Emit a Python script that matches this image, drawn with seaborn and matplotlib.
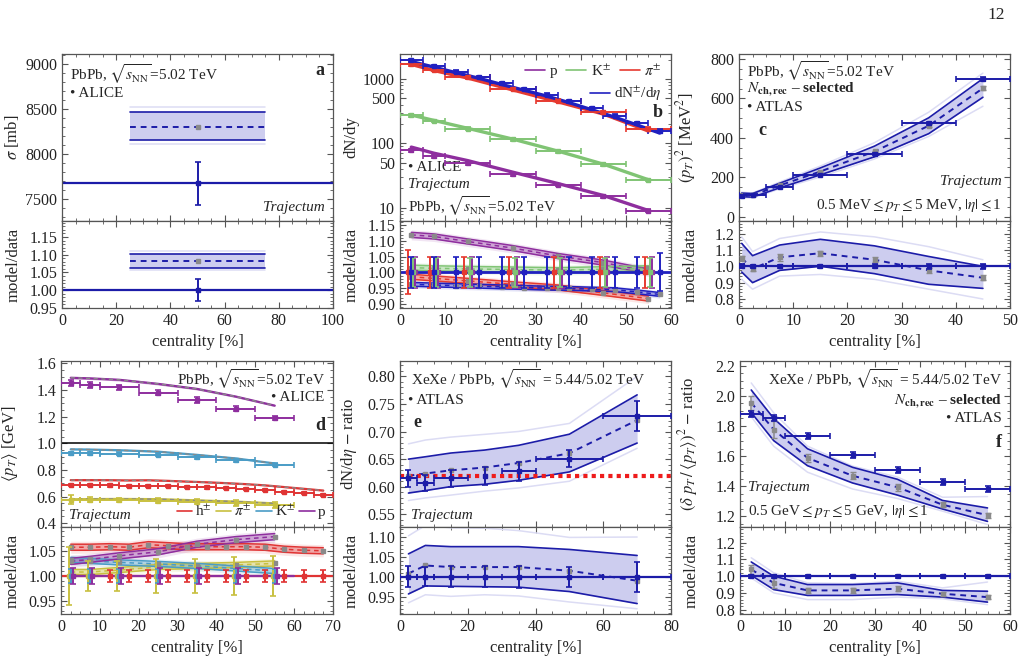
import numpy as np
import seaborn as sns
import matplotlib.pyplot as plt
from matplotlib.lines import Line2D
from matplotlib.ticker import MultipleLocator, FormatStrFormatter, FixedLocator, FixedFormatter, LogLocator, NullFormatter

sns.set_style("ticks")
plt.rcParams["font.family"] = ["Liberation Serif", "DejaVu Serif"]
plt.rcParams["mathtext.fontset"] = "stix"
plt.rcParams["font.size"] = 10.5

BLUE = "#1c1ca8"
FILL = "#c8c8ee"
FAINT = "#dcdcf4"
GRAY = "#8a8a8a"
C_P, C_K, C_PI, C_CH = "#8e2e9e", "#80c474", "#e63a30", "#2020c0"
D_H, D_PI, D_K, D_P = "#e03434", "#c8c040", "#4a9cc6", "#8e2e9e"

# ---------------- data ----------------
# a: total cross section
a_data_x, a_data, a_data_err = 50, 7670, 240
a_band_x = [25, 75]
a_model = [8150, 8300, 8460]          # lower, median, upper
a_model_out = [8110, 8520]

# b: yields
b_id_x = np.array([2.5, 7.5, 15, 25, 35, 45, 55])
b_id_xerr = [2.5, 2.5, 5, 5, 5, 5, 5]
b_pi = np.array([1706, 1377, 1060, 700, 462, 305, 169])
b_k = np.array([271, 224, 169, 115, 75, 47, 26.8])
b_p = np.array([78, 63, 49, 33, 22.5, 15, 9.0])
b_pi_ratio = np.array([0.986, 0.981, 0.973, 0.962, 0.952, 0.935, 0.917])
b_k_ratio = np.array([1.015, 1.013, 1.011, 1.009, 1.007, 1.010, 1.013])
b_p_ratio = np.array([1.119, 1.114, 1.098, 1.077, 1.052, 1.031, 1.003])
b_pi_err = [0.07, 0.05, 0.05, 0.05, 0.05, 0.05, 0.05]
b_k_err = [0.045, 0.045, 0.045, 0.045, 0.045, 0.045, 0.045]
b_p_err = [0.05, 0.05, 0.05, 0.05, 0.05, 0.05, 0.05]
b_ch_x = np.array([2.5, 7.5, 12.5, 17.5, 22.5, 27.5, 32.5, 37.5, 42.5, 47.5, 52.5, 57.5])
b_ch = np.array([1940, 1590, 1300, 1070, 860, 700, 570, 450, 350, 270, 205, 155])
b_ch_ratio = np.array([0.962, 0.960, 0.958, 0.956, 0.954, 0.952, 0.950, 0.949, 0.947, 0.945, 0.938, 0.930])
b_ch_err = [0.05, 0.05, 0.05, 0.05, 0.05, 0.05, 0.05, 0.05, 0.05, 0.05, 0.05, 0.06]

# c: <pT>^2 ATLAS
c_x = np.array([0.5, 2.5, 7.5, 15, 25, 35, 45])
c_xlo = [0.5, 2.5, 2.5, 5, 5, 5, 5]
c_data = np.array([105, 110, 150, 212, 318, 473, 700])
c_err = np.array([0.012, 0.010, 0.010, 0.008, 0.012, 0.015, 0.015])
c_mid = np.array([1.05, 0.985, 1.055, 1.08, 1.04, 0.975, 0.93])
c_hi = np.array([1.14, 1.065, 1.13, 1.165, 1.125, 1.06, 1.0])
c_lo = np.array([0.965, 0.90, 0.975, 1.0, 0.955, 0.89, 0.865])
c_hi_out = np.array([1.18, 1.09, 1.17, 1.21, 1.18, 1.12, 1.04])
c_lo_out = np.array([0.92, 0.86, 0.94, 0.95, 0.92, 0.86, 0.80])
c_mod_err = np.array([0.015, 0.015, 0.02, 0.015, 0.015, 0.015, 0.015])

# d: <pT> ALICE
d_id_x = np.array([2.5, 7.5, 15, 25, 35, 45, 55])
d_id_xerr = [2.5, 2.5, 5, 5, 5, 5, 5]
d_p = np.array([1.45, 1.44, 1.42, 1.38, 1.325, 1.26, 1.19])
d_k = np.array([0.925, 0.925, 0.923, 0.915, 0.895, 0.873, 0.84])
d_pi = np.array([0.575, 0.576, 0.575, 0.570, 0.560, 0.550, 0.535])
d_p_ratio = np.array([1.029, 1.033, 1.040, 1.048, 1.063, 1.072, 1.078])
d_k_ratio = np.array([1.032, 1.030, 1.027, 1.024, 1.020, 1.015, 1.010])
d_pi_ratio = np.array([1.008, 1.008, 1.012, 1.018, 1.020, 1.022, 1.025])
d_p_err = [0.015] * 7
d_k_err = [0.013] * 7
d_pi_err = [0.057, 0.030, 0.030, 0.034, 0.034, 0.037, 0.040]
d_h_x = np.array([2.5, 7.5, 12.5, 17.5, 22.5, 27.5, 32.5, 37.5, 42.5, 47.5, 52.5, 57.5, 62.5, 67.5])
d_h = np.array([0.684, 0.684, 0.683, 0.682, 0.680, 0.677, 0.673, 0.668, 0.662, 0.655, 0.647, 0.637, 0.626, 0.614])
d_h_ratio = np.array([1.057, 1.057, 1.058, 1.057, 1.062, 1.060, 1.058, 1.058, 1.058, 1.058, 1.057, 1.053, 1.051, 1.050])
d_h_err = [0.012] * 14

# e: XeXe/PbPb dN/deta ratio
e_x = np.array([2.5, 7.5, 15, 25, 35, 50, 70])
e_xerr = [2.5, 2.5, 5, 0, 5, 10, 10]
e_data = np.array([0.615, 0.607, 0.615, 0.620, 0.628, 0.651, 0.728])
e_data_err = np.array([0.016, 0.014, 0.016, 0.016, 0.017, 0.016, 0.027])
e_mid = np.array([1.008, 1.028, 1.024, 1.024, 1.024, 1.015, 0.990])
e_hi = np.array([1.057, 1.078, 1.075, 1.075, 1.075, 1.068, 1.053])
e_lo = np.array([0.957, 0.977, 0.976, 0.975, 0.974, 0.963, 0.933])
e_hi_out = np.array([1.102, 1.128, 1.122, 1.121, 1.115, 1.098, 1.099])
e_lo_out = np.array([0.935, 0.955, 0.951, 0.955, 0.952, 0.937, 0.920])
e_ref = 0.62

# f: XeXe/PbPb pT fluctuation ratio
f_x = np.array([2.5, 7.5, 15, 25, 35, 45, 55])
f_xerr = [2.5, 2.5, 5, 5, 5, 5, 5]
f_data = np.array([1.88, 1.85, 1.735, 1.605, 1.505, 1.425, 1.378])
f_mid = np.array([1.04, 0.96, 0.915, 0.915, 0.925, 0.895, 0.875])
f_hi = np.array([1.085, 1.0, 0.95, 0.95, 0.96, 0.915, 0.91])
f_lo = np.array([1.005, 0.92, 0.885, 0.885, 0.89, 0.875, 0.845])
f_hi_out = np.array([1.11, 1.02, 0.96, 0.955, 0.97, 0.93, 0.965])
f_lo_out = np.array([0.99, 0.90, 0.86, 0.86, 0.875, 0.865, 0.83])
f_mod_err = np.array([0.025, 0.03, 0.015, 0.015, 0.015, 0.012, 0.012])

# ---------------- helpers ----------------
W, H = 1024, 665
fig = plt.figure(figsize=(W / 100, H / 100), dpi=100)


def axes_px(x0, x1, y0, y1):
    return fig.add_axes([x0 / W, 1 - y1 / H, (x1 - x0) / W, (y1 - y0) / H])


def style(ax, xlim, ylim, xmaj, xmin, ymaj=None, ymin=None, yfmt=None):
    ax.set_xlim(xlim)
    ax.set_ylim(ylim)
    ax.xaxis.set_major_locator(MultipleLocator(xmaj))
    ax.xaxis.set_minor_locator(MultipleLocator(xmin))
    if ymaj is not None:
        ax.yaxis.set_major_locator(MultipleLocator(ymaj))
        ax.yaxis.set_minor_locator(MultipleLocator(ymin))
    if yfmt:
        ax.yaxis.set_major_formatter(FormatStrFormatter(yfmt))
    ax.tick_params(which="both", direction="in", top=True, right=True,
                   labelsize=11.5, color="#555", labelcolor="#222")
    ax.tick_params(which="major", length=4.5, width=0.8)
    ax.tick_params(which="minor", length=2.3, width=0.6)
    for s in ax.spines.values():
        s.set_color("#555")
        s.set_linewidth(0.9)
    ax.yaxis.set_label_coords(-0.15, 0.5)


def band(ax, x, lo, mid, hi, lo_out=None, hi_out=None, err=None):
    if lo_out is not None:
        ax.plot(x, lo_out, color=FAINT, lw=1.1)
        ax.plot(x, hi_out, color=FAINT, lw=1.1)
    ax.fill_between(x, lo, hi, color=FILL, lw=0, alpha=0.9)
    ax.plot(x, lo, color=BLUE, lw=1.2)
    ax.plot(x, hi, color=BLUE, lw=1.2)
    sns.lineplot(x=x, y=mid, ax=ax, color=BLUE, linestyle=(0, (3, 2.5)), lw=1.4)
    if err is not None:
        ax.errorbar(x, mid, yerr=err, fmt="s", ms=2.5, color=GRAY, capsize=2, elinewidth=1.1, zorder=4)


def data_pts(ax, x, y, xerr=None, yerr=None, color=BLUE, ms=3.5):
    ax.errorbar(x, y, xerr=xerr, yerr=yerr, fmt="s", ms=ms, color=color,
                capsize=2.5, elinewidth=1.4, capthick=1.2, zorder=5)


def color_band(ax, x, mid, w, color):
    ax.fill_between(x, mid - 2 * w, mid + 2 * w, color=color, alpha=0.12, lw=0)
    ax.fill_between(x, mid - w, mid + w, color=color, alpha=0.35, lw=0)
    ax.plot(x, mid - w, color=color, lw=1.1)
    ax.plot(x, mid + w, color=color, lw=1.1)
    ax.plot(x, mid, color=color, lw=1.1, ls=(0, (3, 2.5)))
    ax.plot(x, mid, "s", color=GRAY, ms=2.2, zorder=4)


def txt(ax, x, y, s, ha="left", va="top", **kw):
    ax.text(x, y, s, transform=ax.transAxes, ha=ha, va=va, fontsize=kw.pop("fontsize", 11), **kw)


SQRT = r"$\sqrt{s_{\rm NN}}$"

# ---------------- panel a ----------------
am = axes_px(62, 333, 54, 221)
ar = axes_px(62, 333, 221, 308)
band(am, a_band_x, [a_model[0]] * 2, [a_model[1]] * 2, [a_model[2]] * 2,
     [a_model_out[0]] * 2, [a_model_out[1]] * 2)
am.plot(50, a_model[1], "s", color=GRAY, ms=2.5)
am.axhline(a_data, color=BLUE, lw=1.6)
data_pts(am, [a_data_x], [a_data], yerr=[a_data_err])
style(am, (0, 100), (7250, 9110), 20, 5, 500, 100)
am.set_xticklabels([])
am.set_ylabel(r"$\sigma$ [mb]", fontsize=12)
txt(am, 0.03, 0.95, "PbPb, " + SQRT + "=5.02 TeV")
txt(am, 0.03, 0.80, "• ALICE")
txt(am, 0.97, 0.95, "a", ha="right", fontweight="bold", fontsize=13)
txt(am, 0.97, 0.04, "Trajectum", ha="right", va="bottom", style="italic")

ra = np.array(a_model) / a_data
ra_out = np.array(a_model_out) / a_data
band(ar, a_band_x, [ra[0]] * 2, [ra[1]] * 2, [ra[2]] * 2, [ra_out[0]] * 2, [ra_out[1]] * 2)
ar.plot(50, ra[1], "s", color=GRAY, ms=2.5)
ar.axhline(1.0, color=BLUE, lw=1.6)
data_pts(ar, [a_data_x], [1.0], yerr=[a_data_err / a_data])
style(ar, (0, 100), (0.95, 1.195), 20, 5, 0.05, 0.01, "%.2f")
ar.set_ylabel("model/data", fontsize=12)
ar.set_xlabel("centrality [%]", fontsize=12)

# ---------------- panel b ----------------
bm = axes_px(400, 671, 54, 221)
br = axes_px(400, 671, 221, 308)
species_b = [
    (b_id_x, b_p, b_p_ratio, b_p_err, b_id_xerr, C_P, 0.9, 0.008),
    (b_id_x, b_k, b_k_ratio, b_k_err, b_id_xerr, C_K, 0.4, 0.008),
    (b_id_x, b_pi, b_pi_ratio, b_pi_err, b_id_xerr, C_PI, -0.8, 0.008),
    (b_ch_x, b_ch, b_ch_ratio, b_ch_err, [2.5] * 12, C_CH, 0.0, 0.006),
]
for x, y, r, e, xe, col, off, w in species_b:
    sns.lineplot(x=x, y=y * r, ax=bm, color=col, lw=2.4)
    data_pts(bm, x, y, xerr=xe, yerr=y * np.array(e), color=col, ms=3)
    color_band(br, x, r, w, col)
bm.set_yscale("log")
style(bm, (0, 60), (6.2, 2440), 10, 2.5)
bm.yaxis.set_major_locator(FixedLocator([10, 50, 100, 500, 1000]))
bm.yaxis.set_major_formatter(FixedFormatter(["10", "50", "100", "500", "1000"]))
bm.yaxis.set_minor_locator(LogLocator(subs=np.arange(2, 10)))
bm.yaxis.set_minor_formatter(NullFormatter())
bm.set_xticklabels([])
bm.set_ylabel("dN/dy", fontsize=12)
h1 = [Line2D([], [], color=c, lw=1.2) for c in (C_P, C_K, C_PI)]
leg1 = bm.legend(h1, ["p", r"K$^{\pm}$", r"$\pi^{\pm}$"], ncol=3, loc="upper right",
                 frameon=False, fontsize=11, handlelength=1.3, handletextpad=0.3,
                 columnspacing=0.6, borderaxespad=0.2)
bm.add_artist(leg1)
bm.legend([Line2D([], [], color=C_CH, lw=1.2)], [r"dN$^{\pm}$/d$\eta$"], loc="upper right",
          bbox_to_anchor=(1.0, 0.87), frameon=False, fontsize=11, handlelength=1.3,
          handletextpad=0.3, borderaxespad=0.2)
txt(bm, 0.97, 0.70, "b", ha="right", fontweight="bold", fontsize=13)
txt(bm, 0.03, 0.36, "• ALICE")
txt(bm, 0.03, 0.255, "Trajectum", style="italic")
txt(bm, 0.03, 0.02, "PbPb, " + SQRT + "=5.02 TeV", va="bottom")

br.axhline(1.0, color=C_CH, lw=2)
for x, y, r, e, xe, col, off, w in species_b:
    data_pts(br, x + off, np.ones(len(x)), yerr=e, color=col, ms=2.5)
style(br, (0, 60), (0.887, 1.163), 10, 2.5, 0.05, 0.01, "%.2f")
br.set_ylabel("model/data", fontsize=12)
br.set_xlabel("centrality [%]", fontsize=12)

# ---------------- panel c ----------------
cm = axes_px(739, 1010, 54, 221)
cr = axes_px(739, 1010, 221, 308)
band(cm, c_x, c_data * c_lo, c_data * c_mid, c_data * c_hi,
     c_data * c_lo_out, c_data * c_hi_out, err=c_data * c_mod_err)
data_pts(cm, c_x, c_data, xerr=c_xlo, yerr=c_data * c_err)
style(cm, (0, 50), (-22, 825), 10, 2.5, 200, 50)
cm.set_xticklabels([])
cm.set_ylabel(r"$(p_T)^2$ [MeV$^2$]", fontsize=12)
txt(cm, 0.03, 0.97, "PbPb, " + SQRT + "=5.02 TeV")
txt(cm, 0.03, 0.84, r"$N_{\mathbf{ch,rec}}$ – selected", fontweight="bold")
txt(cm, 0.03, 0.72, "• ATLAS")
txt(cm, 0.07, 0.59, "c", fontweight="bold", fontsize=13)
txt(cm, 0.97, 0.20, "Trajectum", ha="right", va="bottom", style="italic")
txt(cm, 0.97, 0.04, r"0.5 MeV$\leq p_T\leq$5 MeV, $|\eta|\leq$1", ha="right", va="bottom")

band(cr, c_x, c_lo, c_mid, c_hi, c_lo_out, c_hi_out, err=c_mod_err)
cr.axhline(1.0, color=BLUE, lw=1.6)
data_pts(cr, c_x, np.ones(7), xerr=c_xlo, yerr=c_err)
style(cr, (0, 50), (0.745, 1.277), 10, 2.5, 0.1, 0.02, "%.1f")
cr.set_ylabel("model/data", fontsize=12)
cr.set_xlabel("centrality [%]", fontsize=12)

# ---------------- panel d ----------------
dm = axes_px(61, 333, 361, 527)
dr = axes_px(61, 333, 527, 614)
species_d = [
    (d_h_x, d_h, d_h_ratio, d_h_err, [2.5] * 14, D_H, 0.0, 0.006),
    (d_id_x, d_pi, d_pi_ratio, d_pi_err, d_id_xerr, D_PI, -0.5, 0.005),
    (d_id_x, d_k, d_k_ratio, d_k_err, d_id_xerr, D_K, 0.0, 0.005),
    (d_id_x, d_p, d_p_ratio, d_p_err, d_id_xerr, D_P, 0.5, 0.006),
]
for x, y, r, e, xe, col, off, w in species_d:
    dm.fill_between(x, y * (r - w), y * (r + w), color=col, alpha=0.45, lw=0)
    sns.lineplot(x=x, y=y * r, ax=dm, color=col, lw=1.6)
    dm.plot(x, y * r, color=GRAY, lw=1.0, ls=(0, (3, 2.5)))
    data_pts(dm, x, y, xerr=xe, yerr=y * np.array(e), color=col, ms=3)
    color_band(dr, x, r, w, col)
dm.axhline(1.0, color="black", lw=1.1)
style(dm, (0, 70), (0.371, 1.618), 10, 2.5, 0.2, 0.05, "%.1f")
dm.set_xticklabels([])
dm.set_ylabel(r"$\langle p_T\rangle$ [GeV]", fontsize=12)
txt(dm, 0.97, 0.96, "PbPb, " + SQRT + "=5.02 TeV", ha="right")
txt(dm, 0.97, 0.82, "• ALICE", ha="right")
txt(dm, 0.97, 0.66, "d", ha="right", fontweight="bold", fontsize=13)
txt(dm, 0.03, 0.03, "Trajectum", va="bottom", style="italic")
dm.legend([Line2D([], [], color=c, lw=1.2) for c in (D_H, D_PI, D_K, D_P)],
          [r"h$^{\pm}$", r"$\pi^{\pm}$", r"K$^{\pm}$", "p"], ncol=4, loc="lower right",
          frameon=False, fontsize=11, handlelength=1.0, handletextpad=0.2,
          columnspacing=0.3, borderaxespad=0.1)

dr.axhline(1.0, color=D_H, lw=1.6)
dr.plot([d_id_x[0], 60], [1.0, 1.0], color=D_P, lw=1.6)
for x, y, r, e, xe, col, off, w in species_d:
    data_pts(dr, x + off, np.ones(len(x)), yerr=e, color=col, ms=2.5)
style(dr, (0, 70), (0.925, 1.097), 10, 2.5, 0.05, 0.01, "%.2f")
dr.set_ylabel("model/data", fontsize=12)
dr.set_xlabel("centrality [%]", fontsize=12)

# ---------------- panel e ----------------
em = axes_px(400, 671, 361, 527)
er = axes_px(400, 671, 527, 614)
band(em, e_x, e_data * e_lo, e_data * e_mid, e_data * e_hi, e_data * e_lo_out, e_data * e_hi_out)
em.plot(e_x, e_data * e_mid, "s", color=GRAY, ms=2.5, zorder=4)
em.axhline(e_ref, color="#ee1c1c", lw=3, ls=(0, (1, 1)))
data_pts(em, e_x, e_data, xerr=e_xerr, yerr=e_data_err)
style(em, (0, 80), (0.527, 0.828), 20, 5, 0.05, 0.01, "%.2f")
em.set_xticklabels([])
em.set_ylabel(r"dN/d$\eta$ $-$ ratio", fontsize=12)
txt(em, 0.04, 0.965, "XeXe / PbPb, " + SQRT + " = 5.44/5.02 TeV")
txt(em, 0.03, 0.80, "• ATLAS")
txt(em, 0.05, 0.68, "e", fontweight="bold", fontsize=13)
txt(em, 0.04, 0.03, "Trajectum", va="bottom", style="italic")

band(er, e_x, e_lo, e_mid, e_hi, e_lo_out, e_hi_out)
er.plot(e_x, e_mid, "s", color=GRAY, ms=2.5, zorder=4)
er.axhline(1.0, color=BLUE, lw=1.6)
data_pts(er, e_x, np.ones(7), xerr=e_xerr, yerr=e_data_err / e_data)
style(er, (0, 80), (0.907, 1.124), 20, 5, 0.05, 0.01, "%.2f")
er.set_ylabel("model/data", fontsize=12)
er.set_xlabel("centrality [%]", fontsize=12)

# ---------------- panel f ----------------
fm = axes_px(740, 1010, 361, 527)
fr = axes_px(740, 1010, 527, 614)
band(fm, f_x, f_data * f_lo, f_data * f_mid, f_data * f_hi,
     f_data * f_lo_out, f_data * f_hi_out, err=f_data * f_mod_err)
data_pts(fm, f_x, f_data, xerr=f_xerr, yerr=[0.02] * 7)
style(fm, (0, 60), (1.127, 2.233), 10, 2.5, 0.2, 0.05, "%.1f")
fm.set_xticklabels([])
fm.set_ylabel(r"$(\delta\ p_T\,/\,\langle p_T\rangle)^2$ $-$ ratio", fontsize=12)
txt(fm, 0.97, 0.965, "XeXe / PbPb, " + SQRT + " = 5.44/5.02 TeV", ha="right")
txt(fm, 0.97, 0.81, r"$N_{\mathbf{ch,rec}}$ – selected", ha="right", fontweight="bold")
txt(fm, 0.97, 0.69, "• ATLAS", ha="right")
txt(fm, 0.97, 0.56, "f", ha="right", fontweight="bold", fontsize=13)
txt(fm, 0.03, 0.20, "Trajectum", va="bottom", style="italic")
txt(fm, 0.03, 0.04, r"0.5 GeV$\leq p_T\leq$5 GeV, $|\eta|\leq$1", va="bottom")

band(fr, f_x, f_lo, f_mid, f_hi, f_lo_out, f_hi_out, err=f_mod_err)
fr.axhline(1.0, color=BLUE, lw=1.6)
data_pts(fr, f_x, np.ones(7), xerr=f_xerr, yerr=[0.01] * 7)
style(fr, (0, 60), (0.774, 1.294), 10, 2.5, 0.1, 0.02, "%.1f")
fr.set_ylabel("model/data", fontsize=12)
fr.set_xlabel("centrality [%]", fontsize=12)

fig.text(1005 / W, 1 - 15 / H, "12", ha="right", va="center", fontsize=12.5)

fig.savefig("out.png", dpi=100)
